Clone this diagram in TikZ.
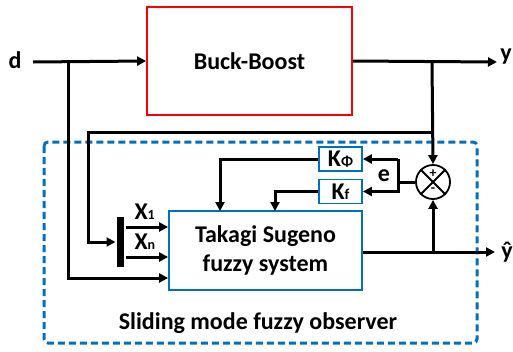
\documentclass[tikz,border=0pt]{standalone}
\usepackage{fontspec}
\setmainfont{Carlito}
\usetikzlibrary{arrows.meta}
\definecolor{obsblue}{RGB}{0,112,192}

\begin{document}
\begin{tikzpicture}[
x=1pt, y=-1pt,
font=\bfseries\fontsize{24}{29}\selectfont,
line width=3pt,
>={Triangle[length=9pt,width=9pt]},
every node/.style={inner sep=0pt},
plant/.style={draw=red, line width=1.8pt, minimum width=205pt, minimum height=108pt},
block/.style={draw=obsblue, line width=1.8pt, align=center},
gain/.style={block, minimum width=43pt, minimum height=24pt},
summer/.style={draw, circle, line width=1.8pt, minimum size=34pt},
mux/.style={fill, minimum width=7pt, minimum height=50pt},
observer/.style={draw=obsblue, dash pattern=on 7pt off 4pt, rounded corners=4pt}
]
\useasboundingbox (0,0) rectangle (513,351);

% observer frame
\draw[observer] (44,142) rectangle (477,343);
\node (obsname) at (258,323) {Sliding mode fuzzy observer};

% blocks
\node[plant] (bb) at (249.5,61) {Buck-Boost};
\node[block, minimum width=193pt, minimum height=79pt] (ts) at (265.5,250.5) {Takagi Sugeno\\fuzzy system};
\node[gain] (kphi) at (340.5,159) {K{\fontsize{15}{15}\selectfont Φ}};
\node[gain] (kf) at (340.5,191.5) {K{\fontsize{15}{15}\selectfont f}};
\node[summer] (sum) at (433,182) {};
\draw[line width=1.8pt] (sum.north west) -- (sum.south east) (sum.north east) -- (sum.south west);
\node[font=\bfseries\fontsize{14}{14}\selectfont] at ([yshift=8pt]sum.center) {+};
\node[font=\bfseries\fontsize{14}{14}\selectfont] at ([yshift=-8pt]sum.center) {-};
\node[mux] (bar) at (120.5,242) {};

% signals
\node (d) at (15,60) {d};
\node (y) at (506,57) {y};
\node (yhat) at (507,252) {ŷ};
\node (e) at (384,176) {e};
\node[anchor=south west] (x1) at (133,221) {X{\fontsize{14}{14}\selectfont 1}};
\node[anchor=south west] (xn) at (133,251) {X{\fontsize{14}{14}\selectfont n}};

\coordinate (dsplit) at (68,62);
\coordinate (ysplit) at (432,62);
\coordinate (yend) at (497,62);
\coordinate (fb) at (432,132);
\coordinate (esplit) at (398,182);
\coordinate (yhsplit) at (433,252);
\coordinate (yhend) at (495,252);

\draw[->] (33,62) -- (bb.west);
\draw[->] (bb.east) -- (yend);
\draw[->] (ysplit) -- (sum.north);
\draw[->] (dsplit) |- (ts.west |- 0,278);
\draw[->] (fb) -| (88,242) -- (bar.west);
\draw[->] (bar.east |- 0,227) -- (ts.west |- 0,227);
\draw[->] (bar.east |- 0,257) -- (ts.west |- 0,257);
\draw[->] (ts.east |- yhsplit) -- (yhend);
\draw[->] (yhsplit) -- (sum.south);
\draw (sum.west) -- (esplit);
\draw[->] (esplit |- kphi) -- (kphi.east);
\draw[->] (esplit |- kphi) -- (esplit |- kf) -- (kf.east);
\draw[->] (kphi.west) -| (220,211);
\draw[->] (kf.west) -| (275,211);
\end{tikzpicture}
\end{document}
